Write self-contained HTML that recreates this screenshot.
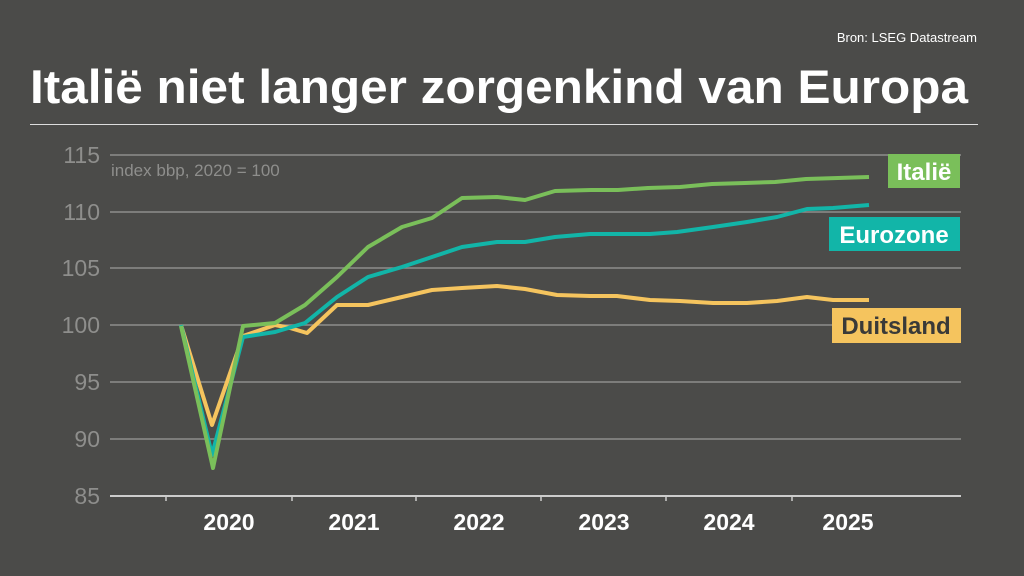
<!DOCTYPE html>
<html><head><meta charset="utf-8"><style>
html,body{margin:0;padding:0;background:#4b4b49;}
svg{display:block}
</style></head><body>
<svg width="1024" height="576" xmlns="http://www.w3.org/2000/svg" font-family="Liberation Sans, sans-serif">
<rect width="1024" height="576" fill="#4b4b49"/>
<text x="977" y="42" fill="#fff" font-size="13" text-anchor="end">Bron: LSEG Datastream</text>
<text x="30" y="103" fill="#fff" font-size="47" font-weight="bold" textLength="938" lengthAdjust="spacingAndGlyphs">Italië niet langer zorgenkind van Europa</text>
<line x1="30" y1="124.5" x2="978" y2="124.5" stroke="#ddd" stroke-width="1"/>
<g stroke="#8e8e8c" stroke-width="1.5">
<line x1="110" y1="155" x2="961" y2="155"/><line x1="110" y1="212" x2="961" y2="212"/>
<line x1="110" y1="268" x2="961" y2="268"/><line x1="110" y1="325" x2="961" y2="325"/>
<line x1="110" y1="382" x2="961" y2="382"/><line x1="110" y1="439" x2="961" y2="439"/>
</g>
<line x1="110" y1="496" x2="961" y2="496" stroke="#ccc" stroke-width="2"/>
<g stroke="#ccc" stroke-width="1.5">
<line x1="166" y1="496" x2="166" y2="501"/><line x1="292" y1="496" x2="292" y2="501"/>
<line x1="416" y1="496" x2="416" y2="501"/><line x1="541" y1="496" x2="541" y2="501"/>
<line x1="666" y1="496" x2="666" y2="501"/><line x1="792" y1="496" x2="792" y2="501"/>
</g>
<g fill="#8e8e8c" font-size="23" text-anchor="end">
<text x="100" y="163">115</text><text x="100" y="220">110</text><text x="100" y="276">105</text>
<text x="100" y="333">100</text><text x="100" y="390">95</text><text x="100" y="447">90</text><text x="100" y="504">85</text>
</g>
<text x="111" y="176" fill="#8e8e8c" font-size="17">index bbp, 2020 = 100</text>
<g fill="#fff" font-size="23" font-weight="bold" text-anchor="middle">
<text x="229" y="530">2020</text><text x="354" y="530">2021</text><text x="479" y="530">2022</text>
<text x="604" y="530">2023</text><text x="729" y="530">2024</text><text x="848" y="530">2025</text>
</g>
<g fill="none" stroke-width="4" stroke-linejoin="round">
<polyline stroke="#f5c45e" points="181,325 212,425 243,336 275,325 290,328 307,333 337,305 368,305 402,297 432,290 462,288 497,286 525,289 557,295 590,296 617,296 650,300 680,301 713,303 747,303 777,301 807,297 833,300 869,300"/>
<polyline stroke="#12b5a8" points="181,325 212,455 243,337 275,332 305,323 337,297 368,277 402,267 432,257 462,247 497,242 525,242 555,237 590,234 617,234 650,234 677,232 713,227 747,222 777,217 807,209 833,208 869,205"/>
<polyline stroke="#7abf5a" points="181,326 213,468 243,326 275,323 305,305 337,277 368,247 402,227 432,218 462,198 497,197 525,200 555,191 591,190 618,190 648,188 680,187 712,184 745,183 775,182 806,179 838,178 869,177"/>
</g>
<rect x="888" y="154" width="72" height="34" fill="#7abf5a"/>
<text x="924" y="180" fill="#fff" font-size="24" font-weight="bold" text-anchor="middle">Italië</text>
<rect x="829" y="217" width="131" height="34" fill="#12b5a8"/>
<text x="894" y="243" fill="#fff" font-size="24" font-weight="bold" text-anchor="middle">Eurozone</text>
<rect x="832" y="308" width="129" height="35" fill="#f5c45e"/>
<text x="896" y="334" fill="#3a3a38" font-size="24" font-weight="bold" text-anchor="middle">Duitsland</text>
</svg>
</body></html>
